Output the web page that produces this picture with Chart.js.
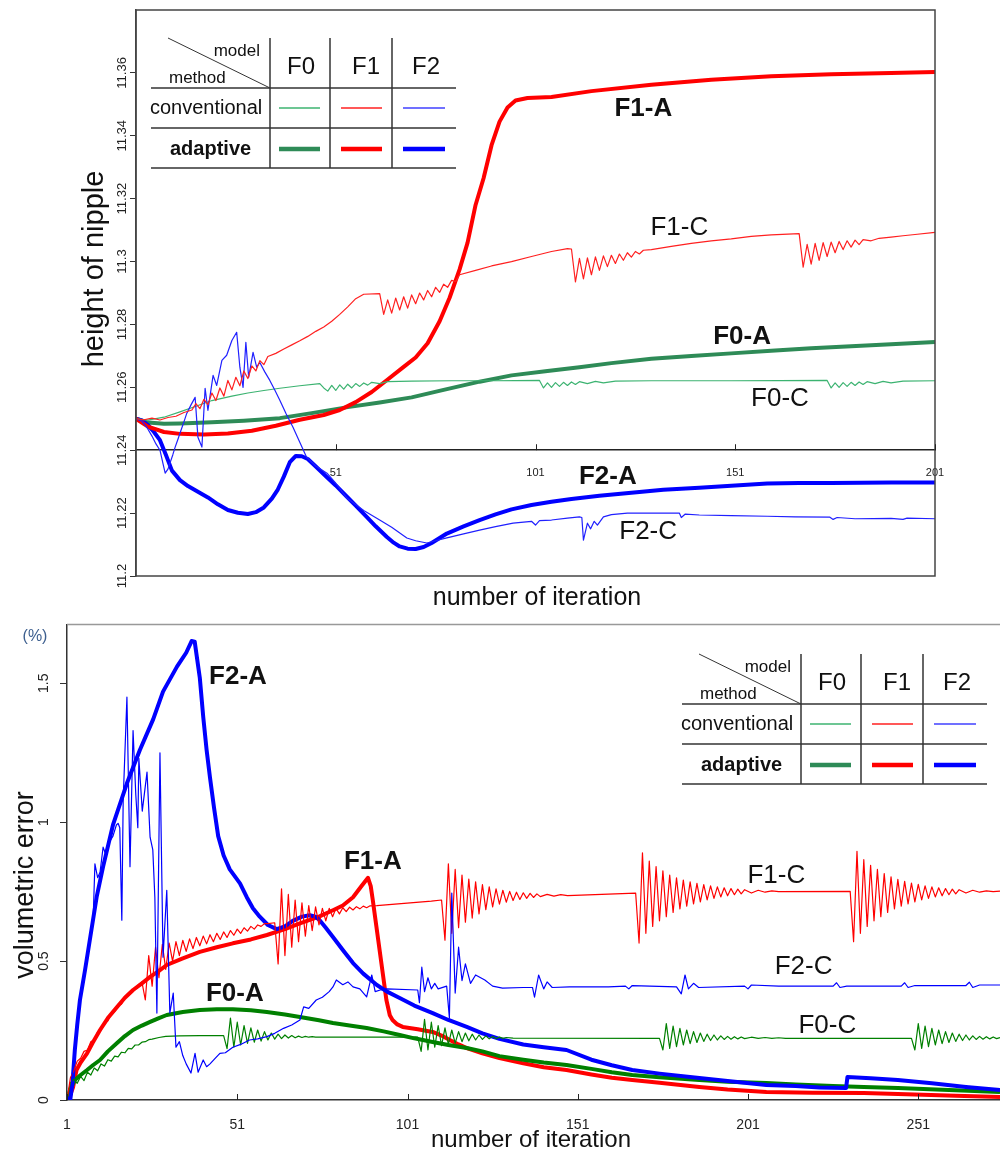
<!DOCTYPE html>
<html lang="en">
<head>
<meta charset="UTF-8">
<title>Nipple height and volumetric error</title>
<script src="https://cdn.jsdelivr.net/npm/chart.js"></script>
<style>
  body { margin: 0; background: #fff; }
  canvas { display: block; }
</style>
</head>
<body>
<canvas id="heightChart" width="1000" height="610"></canvas>
<canvas id="errorChart" width="1000" height="547"></canvas>

<script>
// ---- top chart: height of nipple, [iteration, value] ----
const heightTicks = [11.2, 11.22, 11.24, 11.26, 11.28, 11.3, 11.32, 11.34, 11.36];
const topIterTicks = [51, 101, 151, 201];

const topF1A = [[1,11.25],[4,11.2475],[8,11.2458],[12,11.2452],[18,11.245],[24,11.2453],[30,11.2462],[36,11.2478],[42,11.2497],[48,11.2512],[52,11.2528],[56,11.2553],[60,11.2585],[64,11.2625],[68,11.2665],[71,11.2695],[74,11.274],[77,11.281],[79.5,11.2885],[82,11.2975],[84,11.306],[86,11.318],[88,11.3265],[90,11.337],[92,11.3445],[94,11.349],[96,11.3512],[99,11.352],[105,11.3523],[115,11.3542],[130,11.3562],[145,11.3578],[160,11.3589],[175,11.3596],[190,11.36],[201,11.3603]];
const topF1C = [[1,11.25],[3,11.2497],[5,11.2502],[7,11.2496],[9,11.2504],[11,11.2508],[13,11.252],[15,11.2528],[16,11.2548],[17,11.2532],[18,11.2562],[19,11.2545],[20,11.2582],[21,11.2558],[22,11.2598],[23,11.2572],[24,11.2622],[25,11.2592],[26,11.2632],[27,11.2605],[28,11.2652],[29,11.2628],[30,11.2668],[31,11.2652],[32,11.2685],[33,11.2672],[34,11.2698],[36,11.2708],[38,11.2722],[40,11.2735],[42,11.2748],[44,11.2762],[46,11.2778],[48,11.2792],[50,11.281],[52,11.2832],[54,11.2856],[56,11.2882],[58,11.2896],[62,11.2898],
  [63,11.2832],[64,11.2878],[65,11.2836],[66,11.2884],[67,11.2846],[68,11.2888],[69,11.2852],[70,11.2894],[71,11.2866],[72,11.29],[73,11.2878],[74,11.2908],[75,11.2888],[76,11.2918],[77,11.2902],[78,11.2928],[79,11.2918],[80,11.294],[81,11.2936],[82,11.2958],[86,11.2972],[90,11.2986],[95,11.3],[100,11.3016],[105,11.3032],[109,11.3041],[110,11.304],
  [111,11.2935],[112,11.301],[113,11.2945],[114,11.3012],[115,11.2958],[116,11.3015],[117,11.2972],[118,11.3018],[119,11.2984],[120,11.302],[121,11.2994],[122,11.3024],[123,11.3004],[124,11.3028],[125,11.3014],[126,11.3032],[127,11.3024],[128,11.3036],[130,11.3038],[135,11.3048],[140,11.3058],[145,11.3066],[150,11.3072],[155,11.308],[160,11.3085],[167,11.3089],
  [168,11.2982],[169,11.3055],[170,11.2992],[171,11.3058],[172,11.3004],[173,11.306],[174,11.3016],[175,11.3062],[176,11.3028],[177,11.3064],[178,11.3038],[179,11.3066],[180,11.3046],[181,11.3068],[182,11.3054],[183,11.307],[185,11.3066],[187,11.3074],[190,11.3078],[193,11.3082],[196,11.3086],[201,11.3093]];
const topF0A = [[1,11.25],[4,11.2488],[8,11.2484],[12,11.2485],[20,11.2489],[28,11.2494],[37,11.2502],[45,11.2518],[54,11.2537],[62,11.2552],[70,11.2568],[78,11.2592],[87,11.2618],[95,11.2638],[104,11.2652],[112,11.2664],[120,11.2677],[130,11.2691],[140,11.27],[150,11.2708],[160,11.2716],[170,11.2724],[180,11.2731],[190,11.2737],[201,11.2744]];
const topF0C = [[1,11.25],[4,11.2496],[8,11.2505],[12,11.2522],[16,11.254],[20,11.2558],[25,11.2572],[29,11.2582],[33,11.259],[37,11.2597],[42,11.2605],[47,11.2612],[48,11.2598],[49,11.2588],[50,11.2606],[51,11.259],[52,11.2608],[53,11.2594],[54,11.261],[55,11.2598],[56,11.2612],[57,11.2603],[58,11.2614],[59,11.2607],[60,11.2616],[62,11.2612],[64,11.2618],[70,11.262],[80,11.2621],[90,11.2621],[102,11.2622],
  [103,11.2598],[104,11.2614],[105,11.26],[106,11.2615],[107,11.2603],[108,11.2616],[109,11.2606],[110,11.2617],[111,11.2609],[112,11.2618],[114,11.2612],[116,11.2619],[118,11.2614],[121,11.262],[130,11.2621],[150,11.2621],[174,11.2622],
  [175,11.2598],[176,11.2614],[177,11.26],[178,11.2615],[179,11.2603],[180,11.2616],[181,11.2606],[182,11.2617],[183,11.2609],[184,11.2618],[186,11.2612],[188,11.2619],[190,11.2614],[193,11.262],[201,11.2621]];
const topF2A = [[1,11.25],[2.5,11.2495],[4,11.248],[5.5,11.2458],[7,11.2432],[8.5,11.2385],[10,11.2335],[12,11.2305],[14,11.2286],[16.5,11.2268],[19,11.225],[21.5,11.2228],[24,11.221],[26.5,11.2201],[29,11.2197],[31,11.2203],[33,11.2218],[35,11.2246],[36.5,11.2275],[38,11.2316],[39.5,11.2362],[41,11.2382],[42.5,11.2381],[44,11.2372],[46,11.2348],[48.8,11.2314],[51,11.2288],[53.8,11.2252],[56,11.2224],[58.8,11.2187],[61,11.2158],[63.8,11.2124],[65.5,11.2106],[67,11.2094],[69,11.2087],[71,11.2086],[73,11.2092],[75,11.2105],[78.8,11.2135],[83,11.2158],[87,11.2178],[91,11.2196],[95,11.2212],[100,11.2226],[105,11.2236],[110,11.2245],[117,11.2255],[125,11.2265],[133,11.2274],[142,11.2281],[150,11.2287],[159,11.2294],[167,11.2296],[175,11.2296],[190,11.2297],[201,11.2297]];
const topF2C = [[1,11.25],[2.5,11.2492],[3.7,11.2473],[5,11.2445],[6,11.242],[7,11.24],[7.8,11.2355],[8.3,11.2327],[9,11.234],[9.5,11.2359],[10.2,11.2385],[10.8,11.241],[11.5,11.2435],[12,11.2454],[13,11.249],[13.7,11.2517],[14.8,11.2545],[15.8,11.2568],[16.5,11.2441],[17.5,11.241],[18.3,11.2597],[19,11.2527],[20.3,11.2638],[21.2,11.2606],[22.5,11.2686],[23.7,11.2702],[25,11.2749],[26.2,11.2775],[27,11.2664],[27.8,11.26],[28.5,11.2743],[29.2,11.2632],[30.3,11.2711],[31.2,11.2664],[32,11.2679],[33.2,11.265],[34.5,11.2622],[35.8,11.259],[37,11.2559],[38.6,11.2515],[40.3,11.2473],[42,11.2425],[43.7,11.2378],[46,11.235],[48.8,11.2327],[51,11.2295],[53.8,11.2248],[58,11.2208],[62,11.2178],[65,11.2155],[68.8,11.2121],[71,11.2112],[73.8,11.2105],[76,11.2112],[78.8,11.2121],[83,11.2134],[87,11.2146],[91,11.2157],[95.4,11.2168],[100,11.2174],[101,11.2162],[102,11.2176],[105,11.2178],[109,11.2184],[112,11.2188],[112.6,11.2186],[113,11.2114],[114,11.2168],[114.8,11.215],[115.7,11.2174],[116.5,11.2162],[118,11.2188],[120,11.2195],[124,11.22],[130,11.22],[137,11.22],[137.5,11.2186],[138.5,11.2197],[142,11.2194],[150,11.2192],[159,11.219],[166,11.2188],[174.7,11.2187],[175.5,11.218],[176.5,11.2186],[181,11.2182],[190,11.2183],[193,11.218],[194,11.2184],[201,11.2182]];

// ---- bottom chart: volumetric error (%), [iteration, value] ----
const errorTicks = [0, 0.5, 1, 1.5];
const errIterTicks = [1, 51, 101, 151, 201, 251];

const errF2A = [[1,0],[2,0.005],[2.6,0.06],[3.3,0.18],[4,0.27],[4.8,0.36],[6.3,0.468],[7.7,0.576],[9.7,0.73],[11.6,0.84],[14.5,0.99],[18.6,1.14],[22.4,1.26],[26.3,1.37],[29.2,1.47],[33.3,1.56],[36,1.61],[37.6,1.652],[38.5,1.65],[40,1.52],[41,1.38],[42,1.26],[43,1.16],[44.2,1.05],[45.4,0.95],[47,0.88],[48.8,0.83],[51.8,0.78],[53.8,0.73],[55.6,0.69],[57.6,0.66],[60,0.63],[62.6,0.615],[65,0.625],[67.3,0.645],[70,0.66],[72.3,0.665],[74,0.66],[75.2,0.647],[77,0.62],[79.1,0.587],[82,0.54],[85,0.493],[88,0.455],[92,0.414],[95,0.39],[98.7,0.367],[103,0.34],[108.4,0.313],[113,0.288],[118.4,0.263],[123,0.24],[128,0.22],[135,0.2],[141,0.19],[147.7,0.18],[155,0.145],[161,0.125],[167,0.108],[175,0.095],[186.7,0.079],[195,0.068],[206.4,0.054],[215,0.05],[222,0.045],[229.8,0.043],[230.2,0.083],[237,0.078],[245,0.072],[255,0.06],[265,0.047],[275,0.036]];
const errF1A = [[1,0],[2,0.02],[2.8,0.047],[3.8,0.108],[5,0.135],[6.9,0.168],[8.5,0.205],[10.7,0.252],[13,0.295],[15.7,0.335],[18,0.368],[20.4,0.396],[23,0.42],[25.4,0.443],[28,0.465],[30.3,0.486],[35,0.51],[40,0.533],[45,0.55],[49.7,0.564],[55,0.578],[59.7,0.594],[65,0.615],[69.4,0.636],[75,0.66],[79.1,0.683],[82,0.7],[85,0.73],[87.5,0.77],[89.4,0.8],[90.2,0.77],[90.8,0.72],[91.8,0.63],[92.8,0.54],[93.8,0.45],[94.8,0.36],[95.8,0.305],[96.6,0.288],[98,0.272],[99.6,0.263],[104,0.255],[108.4,0.245],[111,0.232],[113.4,0.216],[116,0.2],[118.4,0.187],[123,0.168],[128,0.151],[135,0.132],[141,0.118],[147.7,0.108],[155,0.092],[161,0.08],[167,0.072],[175,0.062],[186.7,0.047],[195,0.038],[206.4,0.029],[220,0.026],[235,0.025],[250,0.02],[262,0.015],[275,0.011]];
const errF0A = [[1,0],[2,0.04],[3.3,0.072],[5,0.09],[6.9,0.108],[8.7,0.126],[10.7,0.144],[13,0.175],[15.7,0.205],[18,0.23],[20.4,0.252],[23,0.268],[25.4,0.281],[28,0.295],[30.3,0.306],[35,0.317],[40,0.324],[45,0.327],[49.7,0.327],[55,0.323],[59.7,0.317],[65,0.308],[69.4,0.299],[75,0.287],[79.1,0.277],[84,0.268],[89,0.259],[94,0.247],[98.7,0.234],[103,0.222],[108.4,0.209],[113,0.198],[118.4,0.187],[123,0.175],[128,0.158],[135,0.145],[141,0.135],[147.7,0.126],[155,0.112],[161,0.1],[167,0.09],[175,0.082],[186.7,0.072],[195,0.066],[206.4,0.061],[215,0.056],[226,0.05],[235,0.047],[245,0.043],[260,0.036],[275,0.029]];
const errF0C = [[1,0],[2,0.062],[3,0.075],[4,0.06],[5,0.085],[6,0.07],[7,0.1],[8,0.09],[9,0.115],[10,0.105],[11,0.13],[12,0.122],[13,0.145],[14,0.14],[15,0.158],[16,0.155],[17,0.172],[18,0.17],[19,0.186],[20,0.184],[21,0.198],[22,0.198],[23,0.208],[24,0.21],[25,0.217],[26,0.219],[28,0.225],[30,0.229],[34,0.231],[40,0.232],[47,0.232],
  [48,0.185],[49,0.295],[50,0.19],[51,0.28],[52,0.198],[53,0.268],[54,0.204],[55,0.26],[56,0.208],[57,0.252],[58,0.212],[59,0.246],[60,0.216],[61,0.241],[62,0.219],[63,0.237],[64,0.221],[65,0.234],[66,0.223],[67,0.232],[68,0.224],[69,0.23],[70,0.225],[71,0.229],[72,0.226],[73,0.228],[74,0.226],[80,0.226],[104,0.226],
  [105,0.175],[106,0.29],[107,0.18],[108,0.28],[109,0.19],[110,0.268],[111,0.196],[112,0.26],[113,0.2],[114,0.252],[115,0.205],[116,0.246],[117,0.21],[118,0.241],[119,0.213],[120,0.237],[121,0.216],[122,0.234],[123,0.218],[124,0.231],[125,0.22],[126,0.229],[127,0.221],[128,0.227],[129,0.222],[130,0.225],[132,0.223],[175,0.222],
  [176,0.18],[177,0.275],[178,0.186],[179,0.266],[180,0.192],[181,0.258],[182,0.198],[183,0.252],[184,0.203],[185,0.246],[186,0.207],[187,0.241],[188,0.211],[189,0.237],[190,0.214],[191,0.234],[192,0.216],[193,0.231],[194,0.218],[195,0.229],[196,0.219],[197,0.228],[198,0.22],[199,0.227],[200,0.221],[202,0.226],[204,0.222],[206,0.225],[208,0.222],[210,0.224],[212,0.222],[249,0.222],
  [250,0.18],[251,0.275],[252,0.186],[253,0.266],[254,0.192],[255,0.258],[256,0.198],[257,0.252],[258,0.203],[259,0.246],[260,0.207],[261,0.241],[262,0.211],[263,0.237],[264,0.214],[265,0.234],[266,0.216],[267,0.231],[268,0.218],[269,0.229],[270,0.219],[271,0.228],[272,0.22],[273,0.227],[274,0.221],[275,0.225]];
const errF1C = [[1,0],[2,0.08],[3,0.105],[4,0.14],[5,0.15],[6,0.175],[7,0.18],[8,0.21],[9,0.215],[10,0.245],[11,0.25],[12,0.28],[13,0.285],[14,0.31],[15,0.318],[16,0.34],[17,0.345],[18,0.368],[19,0.375],[20,0.392],[21,0.4],[22,0.415],[23,0.425],[24,0.36],[25,0.52],[26,0.41],[27,0.55],[28,0.44],[29,0.56],[30,0.47],[31,0.565],[32,0.5],[33,0.57],[34,0.52],[35,0.575],[36,0.535],[37,0.58],[38,0.545],[39,0.585],[40,0.555],[41,0.59],[42,0.562],[43,0.595],[44,0.57],[45,0.6],[46,0.578],[47,0.605],[48,0.585],[49,0.61],[50,0.593],[51,0.615],[52,0.6],[53,0.62],[54,0.608],[55,0.625],[56,0.615],[57,0.63],[58,0.625],[59,0.635],[60,0.635],[62,0.638],
  [63,0.49],[64,0.76],[65,0.52],[66,0.74],[67,0.55],[68,0.72],[69,0.57],[70,0.71],[71,0.59],[72,0.7],[73,0.61],[74,0.695],[75,0.63],[76,0.69],[77,0.645],[78,0.69],[79,0.66],[80,0.69],[81,0.67],[82,0.692],[83,0.678],[84,0.694],[85,0.684],[86,0.696],[87,0.688],[88,0.698],[89,0.692],[90,0.699],[92,0.7],[100,0.708],[108,0.716],[111,0.72],
  [112,0.575],[113,0.85],[114,0.6],[115,0.83],[116,0.62],[117,0.81],[118,0.64],[119,0.795],[120,0.655],[121,0.785],[122,0.67],[123,0.775],[124,0.685],[125,0.767],[126,0.695],[127,0.76],[128,0.705],[129,0.755],[130,0.712],[131,0.751],[132,0.718],[133,0.748],[134,0.722],[135,0.746],[136,0.726],[137,0.744],[138,0.729],[139,0.742],[140,0.732],[142,0.74],[144,0.734],[146,0.739],[148,0.736],[168,0.745],
  [169,0.565],[170,0.89],[171,0.6],[172,0.86],[173,0.625],[174,0.84],[175,0.645],[176,0.825],[177,0.66],[178,0.81],[179,0.675],[180,0.8],[181,0.688],[182,0.792],[183,0.698],[184,0.785],[185,0.706],[186,0.78],[187,0.713],[188,0.775],[189,0.72],[190,0.771],[191,0.726],[192,0.767],[193,0.731],[194,0.764],[195,0.735],[196,0.761],[197,0.739],[198,0.759],[199,0.742],[200,0.757],[202,0.745],[204,0.755],[206,0.748],[208,0.753],[210,0.75],[231,0.751],
  [232,0.57],[233,0.895],[234,0.6],[235,0.865],[236,0.625],[237,0.845],[238,0.645],[239,0.83],[240,0.66],[241,0.815],[242,0.675],[243,0.803],[244,0.688],[245,0.794],[246,0.698],[247,0.787],[248,0.706],[249,0.781],[250,0.713],[251,0.776],[252,0.72],[253,0.771],[254,0.726],[255,0.767],[256,0.731],[257,0.764],[258,0.735],[259,0.761],[260,0.739],[261,0.759],[262,0.742],[263,0.757],[265,0.745],[267,0.755],[269,0.748],[271,0.753],[273,0.75],[275,0.752]];
const errF2C = [[1,0],[2,0.02],[3,0.15],[4,0.27],[5,0.37],[6,0.46],[7,0.53],[8,0.6],[8.7,0.66],[9.2,0.85],[10,0.8],[10.7,0.82],[11.6,0.91],[12.5,0.88],[13.5,0.93],[14.5,0.95],[15.5,0.99],[16,0.996],[16.5,0.98],[17.1,0.647],[17.5,1.08],[18.6,1.45],[19.5,0.84],[20.4,1.33],[21.2,1.1],[21.8,0.98],[22.1,1.23],[23.1,1.04],[24.5,1.18],[25.4,0.946],[26.2,0.9],[26.8,0.73],[27.4,0.313],[28.3,1.25],[29.2,0.514],[30.3,0.755],[31.2,0.313],[32.2,0.385],[33,0.19],[34,0.21],[35,0.16],[36,0.13],[37.4,0.097],[38.6,0.168],[39.5,0.1],[41,0.144],[42,0.12],[43,0.13],[44.5,0.15],[45.9,0.168],[47.5,0.17],[49.7,0.19],[52,0.2],[54.6,0.216],[57,0.22],[59.7,0.228],[62,0.24],[64.6,0.258],[67,0.27],[69.4,0.288],[70.5,0.335],[72,0.33],[74.2,0.36],[76,0.37],[78,0.39],[79.1,0.407],[80.1,0.432],[82,0.415],[83.5,0.425],[85,0.407],[87,0.4],[89,0.371],[90.5,0.45],[91.5,0.39],[93,0.396],[95,0.4],[104,0.396],[104.5,0.35],[105.2,0.478],[106,0.39],[107,0.44],[108,0.4],[109,0.42],[110,0.4],[112.5,0.41],[113.3,0.295],[114,0.745],[115,0.385],[116,0.55],[117,0.43],[118,0.49],[119.5,0.42],[121,0.45],[123.7,0.432],[126,0.41],[128.9,0.403],[135,0.405],[137.7,0.405],[138.3,0.37],[139.5,0.45],[141,0.4],[142,0.425],[143.5,0.405],[148.6,0.407],[160,0.407],[165,0.41],[166,0.4],[167,0.412],[180,0.407],[181.4,0.382],[182.5,0.45],[183.5,0.4],[185,0.42],[186.5,0.405],[200,0.41],[201,0.4],[202,0.414],[210,0.41],[226,0.41],[227,0.422],[228,0.405],[230,0.41],[246,0.41],[247,0.422],[248,0.405],[250,0.412],[265,0.412],[266,0.424],[267,0.405],[269,0.414],[275,0.414]];

// curve names, placed in data coordinates: [text, iteration, value, bold]
const topNotes = [['F1-A', 128, 11.3486, true], ['F1-C', 137, 11.3108, false], ['F0-A', 152.7, 11.2762, true], ['F0-C', 162.2, 11.2562, false], ['F2-A', 119.1, 11.2314, true], ['F2-C', 129.2, 11.214, false]];
const errNotes = [['F2-A', 51.2, 1.522, true], ['F1-A', 90.8, 0.856, true], ['F0-A', 50.3, 0.381, true], ['F1-C', 209.3, 0.806, false], ['F2-C', 217.3, 0.478, false], ['F0-C', 224.3, 0.266, false]];

const models = ['F0', 'F1', 'F2'];
const FONT = "'Liberation Sans', Arial, sans-serif";
Chart.defaults.font.family = FONT;

function series(pairs, color, width) {
  return {
    data: pairs.map(([x, y]) => ({ x, y })),
    borderColor: color, borderWidth: width,
    pointRadius: 0, tension: 0, fill: false,
    borderJoinStyle: 'round'
  };
}

function seg(ctx, x1, y1, x2, y2) {
  ctx.beginPath(); ctx.moveTo(x1, y1); ctx.lineTo(x2, y2); ctx.stroke();
}

// the small model/method key table
function drawKey(ctx, ox, oy) {
  const thin = ['#3cb371', '#ff2020', '#4040ff'];
  const thick = ['#2e8b57', '#ff0000', '#0000ff'];
  ctx.strokeStyle = '#333';
  ctx.lineWidth = 1.5;
  [50, 90, 130].forEach(dy => seg(ctx, ox, oy + dy, ox + 305, oy + dy));
  [119, 179, 241].forEach(dx => seg(ctx, ox + dx, oy, ox + dx, oy + 130));
  ctx.lineWidth = 1;
  seg(ctx, ox + 17, oy, ox + 119, oy + 50);

  ctx.fillStyle = '#111';
  ctx.textBaseline = 'middle';
  ctx.font = '17px ' + FONT;
  ctx.textAlign = 'right';
  ctx.fillText('model', ox + 109, oy + 13);
  ctx.textAlign = 'left';
  ctx.fillText('method', ox + 18, oy + 40);
  ctx.font = '20px ' + FONT;
  ctx.fillText('conventional', ox - 1, oy + 70);
  ctx.font = 'bold 20px ' + FONT;
  ctx.fillText('adaptive', ox + 19, oy + 111);

  const heads = [150, 215, 275];
  const spans = [[128, 169], [190, 231], [252, 294]];
  ctx.font = '24px ' + FONT;
  ctx.textAlign = 'center';
  models.forEach((m, i) => {
    ctx.fillText(m, ox + heads[i], oy + 29);
    ctx.strokeStyle = thin[i]; ctx.lineWidth = 1.5;
    seg(ctx, ox + spans[i][0], oy + 70, ox + spans[i][1], oy + 70);
    ctx.strokeStyle = thick[i]; ctx.lineWidth = 4.5;
    seg(ctx, ox + spans[i][0], oy + 111, ox + spans[i][1], oy + 111);
  });
}

function drawNotes(ctx, chart, notes) {
  const { x, y } = chart.scales;
  ctx.fillStyle = '#111';
  ctx.textAlign = 'center';
  ctx.textBaseline = 'middle';
  notes.forEach(([t, it, v, bold]) => {
    ctx.font = (bold ? 'bold ' : '') + '26px ' + FONT;
    ctx.fillText(t, x.getPixelForValue(it), y.getPixelForValue(v));
  });
}

function upTicks(ctx, chart, ticks, yPix) {
  const x = chart.scales.x;
  ctx.strokeStyle = '#222';
  ctx.lineWidth = 1;
  ticks.forEach(v => {
    const p = Math.round(x.getPixelForValue(v)) + 0.5;
    seg(ctx, p, yPix, p, yPix - 6);
  });
}

function vText(ctx, text, cx, cy, font) {
  ctx.save();
  ctx.translate(cx, cy);
  ctx.rotate(-Math.PI / 2);
  ctx.font = font;
  ctx.textAlign = 'center';
  ctx.textBaseline = 'middle';
  ctx.fillText(text, 0, 0);
  ctx.restore();
}

const topDecor = {
  id: 'topDecor',
  afterDraw(chart) {
    const { ctx, chartArea: a } = chart;
    ctx.save();
    ctx.strokeStyle = '#444';
    ctx.lineWidth = 1.5;
    ctx.strokeRect(a.left, a.top, a.right - a.left, a.bottom - a.top);
    upTicks(ctx, chart, topIterTicks, chart.scales.y.getPixelForValue(11.24));
    drawNotes(ctx, chart, topNotes);
    drawKey(ctx, 151, 38);
    ctx.fillStyle = '#111';
    vText(ctx, 'height of nipple', 95, 269, '29px ' + FONT);
    ctx.font = '25px ' + FONT;
    ctx.textAlign = 'center';
    ctx.textBaseline = 'middle';
    ctx.fillText('number of iteration', 537, 598);
    ctx.restore();
  }
};

const errDecor = {
  id: 'errDecor',
  afterDraw(chart) {
    const { ctx, chartArea: a } = chart;
    ctx.save();
    ctx.strokeStyle = '#999';
    ctx.lineWidth = 1.5;
    seg(ctx, a.left, a.top, a.right, a.top);
    upTicks(ctx, chart, errIterTicks, a.bottom);
    drawNotes(ctx, chart, errNotes);
    drawKey(ctx, 682, 44);
    ctx.fillStyle = '#111';
    vText(ctx, 'volumetric error', 26, 275, '27px ' + FONT);
    ctx.font = '24px ' + FONT;
    ctx.textAlign = 'center';
    ctx.textBaseline = 'middle';
    ctx.fillText('number of iteration', 531, 530);
    ctx.fillStyle = '#3d5f8f';
    ctx.font = '16px ' + FONT;
    ctx.fillText('(%)', 35, 27);
    ctx.restore();
  }
};

const fmt = v => String(+v.toFixed(2));

// top chart
new Chart(document.getElementById('heightChart'), {
  type: 'line',
  data: {
    datasets: [
      series(topF1C, '#ff2020', 1.2),
      series(topF2C, '#2020ff', 1.2),
      series(topF0C, '#3cb371', 1.2),
      series(topF1A, '#ff0000', 4),
      series(topF2A, '#0000ff', 4),
      series(topF0A, '#2e8b57', 4)
    ]
  },
  options: {
    responsive: false,
    animation: false,
    events: [],
    layout: { padding: { top: 10, right: 65, bottom: 34, left: 0 } },
    plugins: { legend: { display: false }, tooltip: { enabled: false } },
    scales: {
      x: {
        type: 'linear', min: 1, max: 201,
        position: { y: 11.24 },
        afterBuildTicks: s => { s.ticks = topIterTicks.map(v => ({ value: v })); },
        afterFit: s => { s.height = 0; },
        grid: { drawOnChartArea: false, drawTicks: false },
        border: { color: '#222', width: 1.5 },
        ticks: { font: { size: 11 }, color: '#222', padding: 16, maxRotation: 0, autoSkip: false, callback: v => String(v) }
      },
      y: {
        type: 'linear', min: 11.2, max: 11.38,
        afterBuildTicks: s => { s.ticks = heightTicks.map(v => ({ value: v })); },
        afterFit: s => { s.width = 136; },
        grid: { drawOnChartArea: false, tickLength: 6, color: '#333' },
        border: { color: '#444', width: 1.5 },
        ticks: { minRotation: 90, maxRotation: 90, crossAlign: 'center', padding: -8, font: { size: 13 }, color: '#222', autoSkip: false, callback: fmt }
      }
    }
  },
  plugins: [topDecor]
});

// bottom chart
new Chart(document.getElementById('errorChart'), {
  type: 'line',
  data: {
    datasets: [
      series(errF2C, '#0000ff', 1.2),
      series(errF1C, '#ff0000', 1.2),
      series(errF0C, '#008000', 1.2),
      series(errF2A, '#0000ff', 4),
      series(errF0A, '#008000', 4),
      series(errF1A, '#ff0000', 4)
    ]
  },
  options: {
    responsive: false,
    animation: false,
    events: [],
    layout: { padding: { top: 14, right: 0, bottom: 0, left: 0 } },
    plugins: { legend: { display: false }, tooltip: { enabled: false } },
    scales: {
      x: {
        type: 'linear', min: 1, max: 275, position: 'bottom',
        afterBuildTicks: s => { s.ticks = errIterTicks.map(v => ({ value: v })); },
        afterFit: s => { s.height = 57; },
        grid: { drawOnChartArea: false, drawTicks: false },
        border: { color: '#333', width: 1.5 },
        ticks: { font: { size: 14 }, color: '#222', padding: 17, maxRotation: 0, autoSkip: false, callback: v => String(v) }
      },
      y: {
        type: 'linear', min: 0, max: 1.712,
        afterBuildTicks: s => { s.ticks = errorTicks.map(v => ({ value: v })); },
        afterFit: s => { s.width = 67; },
        grid: { drawOnChartArea: false, tickLength: 7, color: '#333' },
        border: { color: '#333', width: 1.5 },
        ticks: { minRotation: 90, maxRotation: 90, crossAlign: 'center', padding: 6, font: { size: 14 }, color: '#222', autoSkip: false, callback: fmt }
      }
    }
  },
  plugins: [errDecor]
});
</script>
</body>
</html>
